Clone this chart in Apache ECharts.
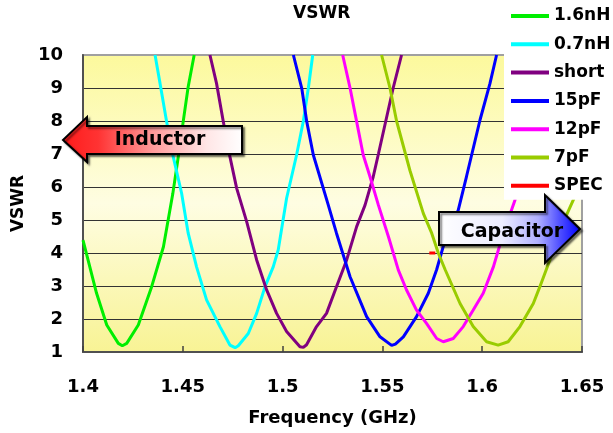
<!DOCTYPE html>
<html>
<head>
<meta charset="utf-8">
<script src="https://cdn.jsdelivr.net/npm/echarts@6/dist/echarts.min.js"></script>
<style>html,body{margin:0;padding:0;background:#fff;}#c{width:613px;height:433px;}</style>
</head>
<body>
<div id="c"></div>
<script>
// ---- data (frequency in GHz, VSWR) ----
const seriesNames = ['1.6nH', '0.7nH', 'short', '15pF', '12pF', '7pF', 'SPEC'];

const f_16nH = [1.400, 1.4068, 1.4119, 1.4177, 1.4197, 1.4219, 1.4277, 1.4344, 1.4403, 1.4450, 1.4480, 1.4502, 1.4527, 1.4557];
const v_16nH = [4.39, 2.78, 1.82, 1.26, 1.19, 1.26, 1.82, 2.98, 4.19, 5.8, 7.02, 7.98, 9.04, 10.0];

const f_07nH = [1.4361, 1.4386, 1.4419, 1.4452, 1.4494, 1.4527, 1.4569, 1.4619, 1.4686, 1.4736, 1.4762, 1.4778, 1.4828, 1.4870, 1.4912, 1.4953, 1.4978, 1.5020, 1.5070, 1.5104, 1.5129, 1.5151];
const v_07nH = [10, 9.14, 7.98, 6.92, 5.81, 4.6, 3.58, 2.58, 1.77, 1.21, 1.13, 1.19, 1.56, 2.17, 2.98, 3.58, 4.09, 5.66, 6.97, 8.0, 9.0, 10];

const f_short = [1.4636, 1.4669, 1.4703, 1.4736, 1.4770, 1.4820, 1.4870, 1.4920, 1.4970, 1.5020, 1.5087, 1.5104, 1.5120, 1.5170, 1.5220, 1.5270, 1.5321, 1.5371, 1.5413, 1.5454, 1.5480, 1.5517, 1.5554, 1.5596];
const v_short = [10, 9.14, 7.98, 6.92, 5.96, 4.95, 3.79, 2.88, 2.17, 1.62, 1.16, 1.14, 1.22, 1.77, 2.17, 2.98, 3.79, 4.8, 5.45, 6.31, 7.0, 8.0, 9.0, 10];

const f_15pF = [1.5054, 1.5096, 1.5121, 1.5154, 1.5229, 1.5270, 1.5338, 1.5421, 1.5488, 1.5546, 1.5565, 1.5605, 1.5671, 1.5730, 1.5772, 1.5805, 1.5880, 1.5921, 1.5989, 1.6039, 1.6072];
const v_15pF = [10, 8.99, 7.98, 6.97, 5.45, 4.6, 3.28, 2.07, 1.46, 1.2, 1.24, 1.46, 2.07, 2.78, 3.5, 4.2, 5.3, 6.31, 8.03, 9.14, 10];

const f_12pF = [1.5301, 1.5338, 1.5371, 1.5404, 1.5438, 1.5480, 1.5530, 1.5580, 1.5621, 1.5671, 1.5721, 1.5772, 1.5805, 1.5855, 1.5905, 1.5955, 1.6005, 1.6056, 1.6106, 1.6164, 1.6215, 1.6270, 1.6320];
const v_12pF = [10, 9.0, 7.98, 6.97, 6.31, 5.45, 4.5, 3.48, 2.88, 2.27, 1.87, 1.41, 1.31, 1.41, 1.77, 2.27, 2.78, 3.58, 4.6, 5.6, 7.0, 8.5, 10];

const f_7pF = [1.5496, 1.5538, 1.5571, 1.5638, 1.5705, 1.5747, 1.5780, 1.5814, 1.5889, 1.5955, 1.6022, 1.6080, 1.6130, 1.6189, 1.6256, 1.6289, 1.6339, 1.6389, 1.6456, 1.6500];
const v_7pF = [10, 9.0, 8.0, 6.5, 5.2, 4.6, 4.0, 3.5, 2.47, 1.77, 1.31, 1.21, 1.31, 1.77, 2.47, 2.98, 3.79, 4.7, 5.6, 6.4];

const f_spec = [1.5735, 1.5765];
const v_spec = [4, 4];

const xTicks = [1.4, 1.45, 1.5, 1.55, 1.6, 1.65];
const yTicks = [1, 2, 3, 4, 5, 6, 7, 8, 9, 10];

// ---- build ----
const colors = ['#00ee00', '#00ffff', '#800080', '#0000ff', '#ff00ff', '#99cc00', '#ff0000'];
const fArr = [f_16nH, f_07nH, f_short, f_15pF, f_12pF, f_7pF, f_spec];
const vArr = [v_16nH, v_07nH, v_short, v_15pF, v_12pF, v_7pF, v_spec];
const FF = 'DejaVu Sans';

const series = seriesNames.map((name, i) => ({
  name: name,
  type: 'line',
  data: fArr[i].map((f, k) => [f, vArr[i][k]]),
  showSymbol: false,
  symbol: 'none',
  lineStyle: { width: 3, color: colors[i] },
  itemStyle: { color: colors[i] },
  clip: true,
  z: 2
}));

const chart = echarts.init(document.getElementById('c'), null, { renderer: 'canvas' });
chart.setOption({
  animation: false,
  backgroundColor: '#ffffff',
  title: {
    text: 'VSWR', left: 293, top: 5, padding: 0,
    textStyle: { fontFamily: FF, fontSize: 17, fontWeight: 'bold', color: '#000' }
  },
  legend: {
    orient: 'vertical', left: 504, top: 0,
    padding: [6, 10, 4, 7],
    backgroundColor: '#ffffff',
    itemGap: 8.3, itemWidth: 38, itemHeight: 4, icon: 'rect',
    data: seriesNames,
    textStyle: { fontFamily: FF, fontSize: 17, fontWeight: 'bold', color: '#000', lineHeight: 20 },
    selectedMode: false,
    z: 10
  },
  grid: {
    left: 83, right: 31, top: 55, bottom: 81,
    show: true,
    borderColor: '#a0a0a0', borderWidth: 2,
    backgroundColor: {
      type: 'linear', x: 0, y: 0, x2: 0, y2: 1,
      colorStops: [
        { offset: 0, color: '#fcf99c' },
        { offset: 0.5, color: '#fefde2' },
        { offset: 1, color: '#f8f394' }
      ]
    }
  },
  xAxis: {
    type: 'value', min: xTicks[0], max: xTicks[xTicks.length - 1], interval: 0.05,
    name: 'Frequency (GHz)', nameLocation: 'middle', nameGap: 57,
    nameTextStyle: { fontFamily: FF, fontSize: 18, fontWeight: 'bold', color: '#000' },
    axisLine: { show: true, onZero: false, lineStyle: { color: '#505050', width: 2 } },
    axisTick: { show: true, inside: true, length: 6, lineStyle: { color: '#404040', width: 1.5 } },
    splitLine: { show: false },
    axisLabel: {
      margin: 26, fontFamily: FF, fontSize: 18, fontWeight: 'bold', color: '#000',
      formatter: v => String(+(+v).toFixed(2))
    }
  },
  yAxis: {
    type: 'value', min: yTicks[0], max: yTicks[yTicks.length - 1], interval: 1,
    name: 'VSWR', nameLocation: 'middle', nameGap: 55, nameRotate: 90,
    nameTextStyle: { fontFamily: FF, fontSize: 17, fontWeight: 'bold', color: '#000' },
    axisLine: { show: true, lineStyle: { color: '#505050', width: 2 } },
    axisTick: { show: false },
    splitLine: { show: true, showMaxLine: false, showMinLine: false, lineStyle: { color: '#333333', width: 1 } },
    axisLabel: { margin: 20, fontFamily: FF, fontSize: 18, fontWeight: 'bold', color: '#000' }
  },
  series: series,
  graphic: [
    {
      type: 'polygon', z: 100,
      shape: { points: [[63, 140], [87, 117], [87, 126], [242, 126], [242, 154], [87, 154], [87, 162]] },
      style: {
        fill: { type: 'linear', x: 0, y: 0, x2: 1, y2: 0, colorStops: [
          { offset: 0, color: '#ff1a1a' }, { offset: 0.2, color: '#ff3333' },
          { offset: 0.5, color: '#ff9a9a' }, { offset: 0.8, color: '#ffe6e6' }, { offset: 1, color: '#ffffff' } ] },
        stroke: '#000', lineWidth: 2,
        shadowBlur: 2, shadowOffsetX: 2, shadowOffsetY: 2, shadowColor: 'rgba(0,0,0,0.5)'
      }
    },
    {
      type: 'text', z: 101, x: 160, y: 140,
      style: { text: 'Inductor', fill: '#000', font: 'bold 19px "DejaVu Sans"', align: 'center', verticalAlign: 'middle' }
    },
    {
      type: 'polygon', z: 100,
      shape: { points: [[439, 212], [545, 212], [545, 195], [580, 229], [545, 263], [545, 245], [439, 245]] },
      style: {
        fill: { type: 'linear', x: 0, y: 0, x2: 1, y2: 0, colorStops: [
          { offset: 0, color: '#ffffff' }, { offset: 0.45, color: '#ececff' },
          { offset: 0.7, color: '#b0b0ff' }, { offset: 0.85, color: '#5050ff' }, { offset: 1, color: '#0000ff' } ] },
        stroke: '#000', lineWidth: 2,
        shadowBlur: 2, shadowOffsetX: 2, shadowOffsetY: 2, shadowColor: 'rgba(0,0,0,0.5)'
      }
    },
    {
      type: 'text', z: 101, x: 512, y: 232,
      style: { text: 'Capacitor', fill: '#000', font: 'bold 19px "DejaVu Sans"', align: 'center', verticalAlign: 'middle' }
    }
  ]
});
</script>
</body>
</html>
